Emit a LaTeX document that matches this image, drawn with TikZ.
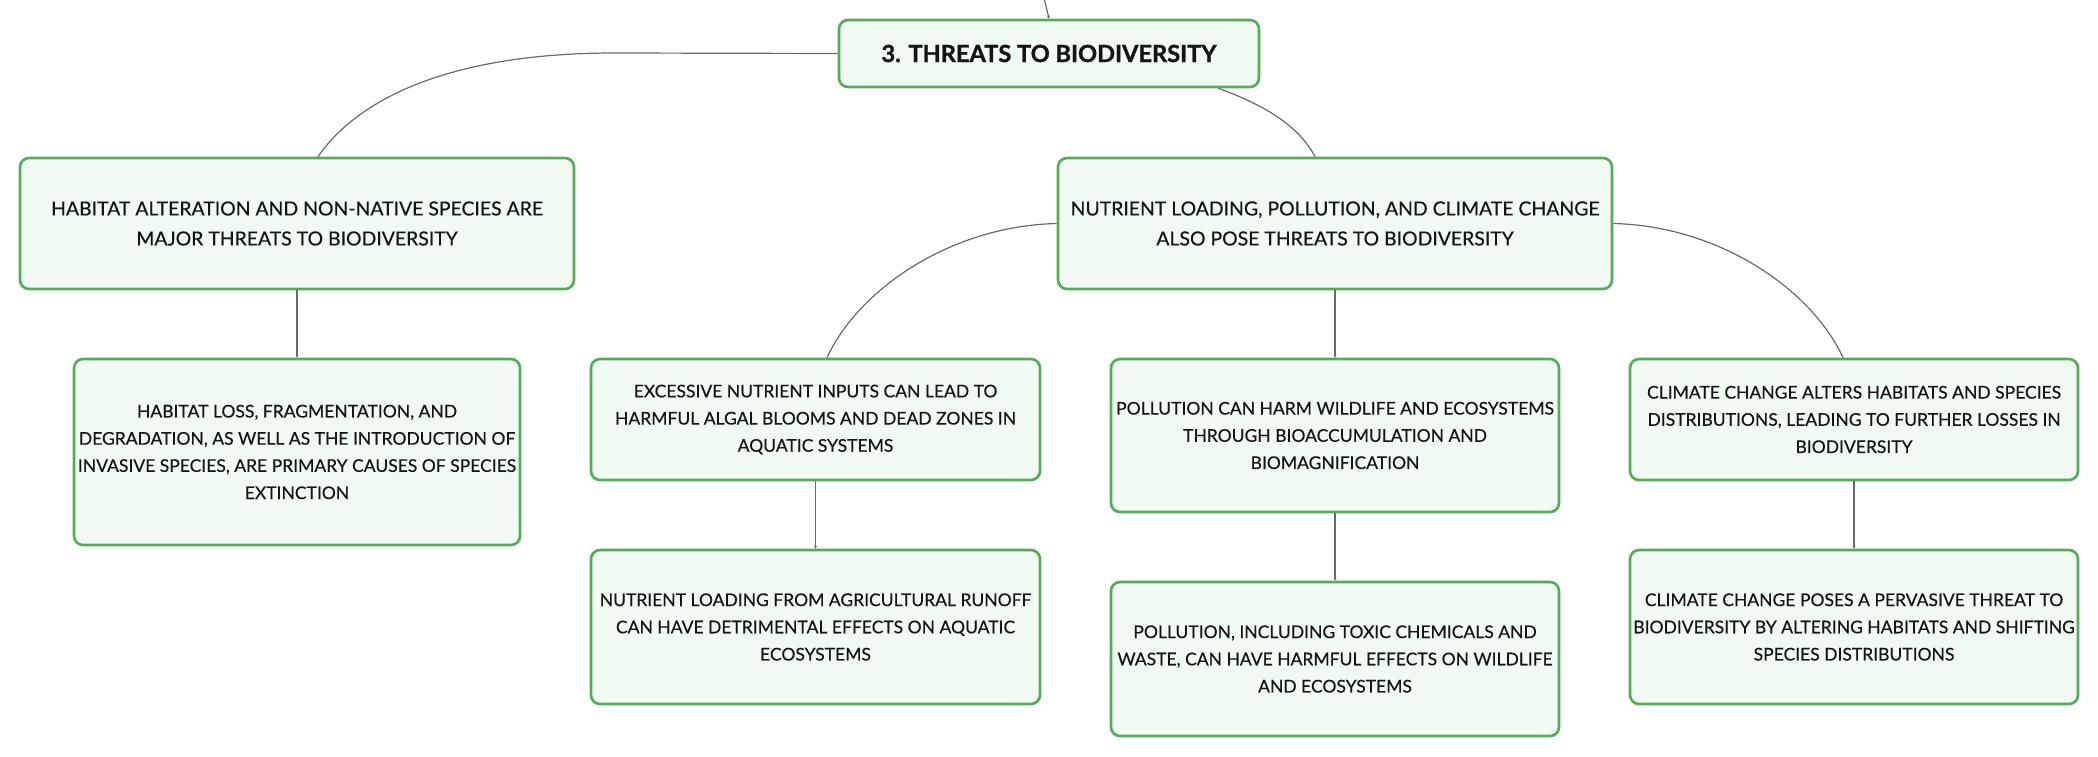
\documentclass[tikz,border=0pt]{standalone}
\usepackage{fontspec}
\setmainfont{Lato}[FakeBold=0.35]
\newfontfamily\rootfont{Lato}[FakeBold=1.2]
\usetikzlibrary{arrows.meta}
\definecolor{boxgreen}{RGB}{84,172,88}
\definecolor{boxfill}{RGB}{241,249,243}
\definecolor{linkgray}{RGB}{105,105,105}
\definecolor{txt}{RGB}{20,20,20}
\tikzset{
  topic/.style={draw=boxgreen, fill=boxfill, line width=2.6pt, rounded corners=9pt,
    align=center, inner sep=0pt, text=txt},
  rootbox/.style={topic, font=\rootfont\fontsize{23.6}{26}\selectfont\bfseries},
  lvlone/.style={topic, font=\fontsize{19.4}{30}\selectfont},
  lvltwo/.style={topic, font=\fontsize{17.5}{27.2}\selectfont},
  link/.style={draw=linkgray, line width=1.2pt},
  arlink/.style={link, -{Stealth[length=3pt,width=3pt]}}
}
\begin{document}
\begin{tikzpicture}[x=1pt,y=-1pt]
\useasboundingbox (0,0) rectangle (2098,757);
\node[rootbox, minimum width=420pt, minimum height=67pt] (root) at (1049,53.5) {3. THREATS TO BIODIVERSITY};
\node[lvlone, minimum width=554pt, minimum height=131pt] (l1) at (297,223.5)
  {HABITAT ALTERATION AND NON-NATIVE SPECIES ARE\\MAJOR THREATS TO BIODIVERSITY};
\node[lvlone, minimum width=554pt, minimum height=131pt] (r1) at (1335,223.5)
  {NUTRIENT LOADING, POLLUTION, AND CLIMATE CHANGE\\ALSO POSE THREATS TO BIODIVERSITY};
\node[lvltwo, minimum width=446pt, minimum height=186pt] (l2) at (297,452)
  {HABITAT LOSS, FRAGMENTATION, AND\\DEGRADATION, AS WELL AS THE INTRODUCTION OF\\INVASIVE SPECIES, ARE PRIMARY CAUSES OF SPECIES\\EXTINCTION};
\node[lvltwo, minimum width=449pt, minimum height=121pt] (a) at (815.5,419.5)
  {EXCESSIVE NUTRIENT INPUTS CAN LEAD TO\\HARMFUL ALGAL BLOOMS AND DEAD ZONES IN\\AQUATIC SYSTEMS};
\node[lvltwo, minimum width=448pt, minimum height=153pt] (b) at (1335,435.5)
  {POLLUTION CAN HARM WILDLIFE AND ECOSYSTEMS\\THROUGH BIOACCUMULATION AND\\BIOMAGNIFICATION};
\node[lvltwo, minimum width=448pt, minimum height=121pt] (c) at (1854,419.5)
  {CLIMATE CHANGE ALTERS HABITATS AND SPECIES\\DISTRIBUTIONS, LEADING TO FURTHER LOSSES IN\\BIODIVERSITY};
\node[lvltwo, minimum width=449pt, minimum height=154pt] (a2) at (815.5,627)
  {NUTRIENT LOADING FROM AGRICULTURAL RUNOFF\\CAN HAVE DETRIMENTAL EFFECTS ON AQUATIC\\ECOSYSTEMS};
\node[lvltwo, minimum width=448pt, minimum height=154pt] (b2) at (1335,659)
  {POLLUTION, INCLUDING TOXIC CHEMICALS AND\\WASTE, CAN HAVE HARMFUL EFFECTS ON WILDLIFE\\AND ECOSYSTEMS};
\node[lvltwo, minimum width=448pt, minimum height=154pt] (c2) at (1854,627)
  {CLIMATE CHANGE POSES A PERVASIVE THREAT TO\\BIODIVERSITY BY ALTERING HABITATS AND SHIFTING\\SPECIES DISTRIBUTIONS};
\coordinate (top) at (1044,-2);
\coordinate (bend) at (615,53);
\draw[arlink] (top) -- (root.north);
\draw[link] (root.west) -- (bend) .. controls (430,53) and (350,110) .. (l1.north -| 318,0);
\draw[link] (root.south -| 1218,0) .. controls (1268,106) and (1300,128) .. (r1.north -| 1315,0);
\draw[link] (r1.west) .. controls (950,226) and (858,290) .. (a.north -| 827,0);
\draw[link] (r1.east) .. controls (1720,226) and (1812,290) .. (c.north -| 1843,0);
\draw[arlink] (l1.south) -- (l2.north);
\draw[arlink] (r1.south) -- (b.north);
\draw[arlink] (a.south) -- (a2.north);
\draw[arlink] (b.south) -- (b2.north);
\draw[arlink] (c.south) -- (c2.north);
\end{tikzpicture}
\end{document}
